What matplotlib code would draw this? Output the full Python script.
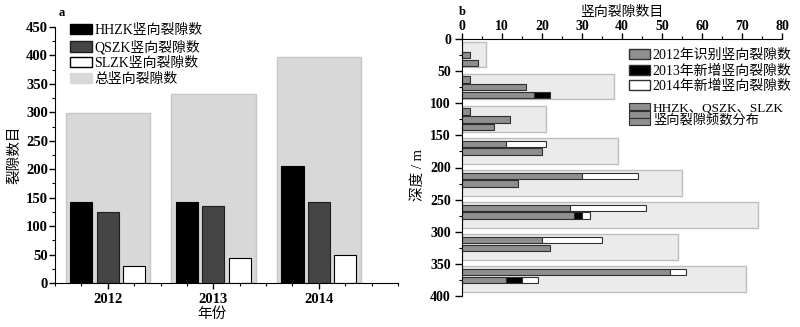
import matplotlib.pyplot as plt
import numpy as np
from matplotlib.patches import Patch, Rectangle
from matplotlib.ticker import MultipleLocator

plt.rcParams['font.family'] = ['Liberation Serif', 'Noto Sans CJK SC']

# 图a：各钻孔每年的竖向裂隙数
anos = np.array([2012, 2013, 2014])
hhzk = [143, 143, 205]
qszk = [124, 136, 142]
slzk = [30, 44, 49]
total = [298, 332, 397]

# 图b：按50 m深度段统计（每段依次为 HHZK、QSZK、SLZK）
prof_centro = np.arange(25, 400, 50)
total_faixa = [6, 38, 21, 39, 55, 74, 54, 71]
n2012 = np.array([[0, 2, 4], [2, 16, 18], [2, 12, 8], [11, 20, 0],
                  [30, 14, 0], [27, 28, 0], [20, 22, 0], [52, 11, 0]])
n2013 = np.array([[0, 0, 0], [0, 0, 4], [0, 0, 0], [0, 0, 0],
                  [0, 0, 0], [0, 2, 0], [0, 0, 0], [0, 4, 0]])
n2014 = np.array([[0, 0, 0], [0, 0, 0], [0, 0, 0], [10, 0, 0],
                  [14, 0, 0], [19, 2, 0], [15, 0, 0], [4, 4, 0]])

W, H = 800, 327
fig = plt.figure(figsize=(W / 100, H / 100), dpi=100)


def fx(px):
    return px / W


def fy(py):
    return 1 - py / H


# ---------------- 图a ----------------
ax1 = fig.add_axes([fx(55), fy(283), fx(398 - 55), (283 - 27) / H])
ax1.bar(anos, total, width=0.8, color='#d8d8d8', edgecolor='#c6c6c6', lw=1, zorder=1)
ax1.bar(anos - 0.25, hhzk, width=0.21, color='black', edgecolor='black', lw=0.8, zorder=2)
ax1.bar(anos, qszk, width=0.21, color='#454545', edgecolor='#1e1e1e', lw=0.8, zorder=2)
ax1.bar(anos + 0.25, slzk, width=0.21, color='white', edgecolor='black', lw=0.8, zorder=2)

ax1.set_xlim(2011.5, 2014.75)
ax1.set_ylim(0, 450)
ax1.set_xticks(anos)
ax1.xaxis.set_minor_locator(MultipleLocator(0.25))
ax1.yaxis.set_major_locator(MultipleLocator(50))
ax1.yaxis.set_minor_locator(MultipleLocator(25))
for s in ['top', 'right']:
    ax1.spines[s].set_visible(False)
ax1.tick_params(which='major', length=4, width=1, labelsize=10.5, pad=1)
ax1.tick_params(axis='x', which='major', pad=3)
ax1.tick_params(which='minor', length=2.5, width=0.8)
for t in ax1.get_xticklabels() + ax1.get_yticklabels():
    t.set_fontweight('bold')

ax1.legend(
    [Patch(facecolor='black', edgecolor='black'),
     Patch(facecolor='#454545', edgecolor='#1e1e1e'),
     Patch(facecolor='white', edgecolor='black'),
     Patch(facecolor='#d8d8d8', edgecolor='#d8d8d8')],
    ['HHZK竖向裂隙数', 'QSZK竖向裂隙数', 'SLZK竖向裂隙数', '总竖向裂隙数'],
    loc='upper left', bbox_to_anchor=(0.044, 1.013), frameon=False, fontsize=10,
    handlelength=1.55, handleheight=0.8, handletextpad=0.2, labelspacing=0.2,
    borderpad=0, borderaxespad=0)

fig.text(fx(62), fy(13), 'a', fontsize=9, fontweight='bold', ha='center', va='center')
fig.text(fx(15), fy(155), '裂隙数目', fontsize=10.5, rotation=90, ha='center', va='center')
fig.text(fx(212), fy(314), '年份', fontsize=10.5, ha='center', va='center')

# ---------------- 图b ----------------
ax2 = fig.add_axes([fx(462), fy(296), fx(782 - 462), (296 - 39) / H])
ax2.barh(prof_centro - 1, total_faixa, height=40, color='#ebebeb',
         edgecolor='#bdbdbd', lw=1, zorder=1)

for j in range(3):
    y = prof_centro + (j - 1) * 12
    a, b, c = n2012[:, j], n2013[:, j], n2014[:, j]
    m = a > 0
    ax2.barh(y[m], a[m], height=10, color='#8f8f8f', edgecolor='#303030', lw=0.8, zorder=2)
    m = b > 0
    ax2.barh(y[m], b[m], left=a[m], height=10, color='black', edgecolor='#303030', lw=0.8, zorder=2)
    m = c > 0
    ax2.barh(y[m], c[m], left=(a + b)[m], height=10, color='white', edgecolor='#303030', lw=0.8, zorder=2)

ax2.set_xlim(0, 80)
ax2.set_ylim(400, 0)
ax2.xaxis.tick_top()
ax2.xaxis.set_major_locator(MultipleLocator(10))
ax2.xaxis.set_minor_locator(MultipleLocator(5))
ax2.yaxis.set_major_locator(MultipleLocator(50))
ax2.yaxis.set_minor_locator(MultipleLocator(25))
for s in ['bottom', 'right']:
    ax2.spines[s].set_visible(False)
ax2.tick_params(which='major', length=5, width=1, labelsize=10, pad=3)
ax2.tick_params(axis='x', which='major', length=4, pad=0)
ax2.tick_params(which='minor', length=2.5, width=0.8)
for t in ax2.get_xticklabels() + ax2.get_yticklabels():
    t.set_fontweight('bold')

ax2.legend(
    [Patch(facecolor='#8f8f8f', edgecolor='#303030'),
     Patch(facecolor='black', edgecolor='#303030'),
     Patch(facecolor='white', edgecolor='#303030')],
    ['2012年识别竖向裂隙数', '2013年新增竖向裂隙数', '2014年新增竖向裂隙数'],
    loc='upper left', bbox_to_anchor=(0.522, 0.962), frameon=False, fontsize=10,
    handlelength=1.5, handleheight=0.75, handletextpad=0.15, labelspacing=0.18,
    borderpad=0, borderaxespad=0)

# 钻孔分布图例：三根叠放的灰色条
for k in range(3):
    fig.add_artist(Rectangle((fx(629), fy(102.5 + 7.5 * (k + 1))), fx(21), 7 / H,
                             transform=fig.transFigure, facecolor='#8f8f8f',
                             edgecolor='#303030', lw=0.8))
fig.text(fx(653), fy(108.8), 'HHZK、QSZK、SLZK', fontsize=9.5, ha='left', va='center')
fig.text(fx(653), fy(120.7), '竖向裂隙频数分布', fontsize=9.5, ha='left', va='center')

fig.text(fx(462), fy(12), 'b', fontsize=9, fontweight='bold', ha='center', va='center')
fig.text(fx(622), fy(12.5), '竖向裂隙数目', fontsize=10, ha='center', va='center')
fig.text(fx(418), fy(175), '深度 / m', fontsize=10.5, rotation=90, ha='center', va='center')

fig.savefig('out.png', dpi=100)
